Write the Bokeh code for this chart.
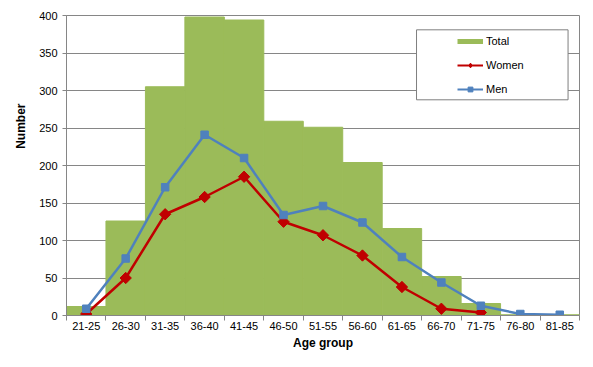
import numpy as np
from bokeh.plotting import figure
from bokeh.models import (ColumnDataSource, FixedTicker, Legend, LegendItem,
                          BoxAnnotation, Range1d, Title)
from bokeh.embed import file_html
from bokeh.resources import INLINE

categories = ["21-25", "26-30", "31-35", "36-40", "41-45", "46-50", "51-55",
              "56-60", "61-65", "66-70", "71-75", "76-80", "81-85"]
total = [12, 126, 305, 398, 394, 259, 251, 204, 116, 52, 16, 1, 1]
women = [2, 50, 135, 158, 185, 125, 107, 80, 38, 9, 4]
men = [9, 76, 171, 241, 210, 134, 146, 124, 78, 44, 13, 2, 1]
y_ticks = [0, 50, 100, 150, 200, 250, 300, 350, 400]

GREEN = "#9BBB59"
RED = "#C00000"
BLUE = "#4F81BD"
GRID = "#868686"
FONT = "Liberation Sans"

n = len(categories)
centers = [i + 0.5 for i in range(n)]
bounds = list(range(n + 1))

p = figure(width=593, height=367, output_backend="svg", toolbar_location=None,
           x_range=Range1d(0, n), y_range=Range1d(0, 400),
           min_border_left=66, min_border_right=14, min_border_top=15,
           min_border_bottom=52)
p.background_fill_color = "white"
p.border_fill_color = "white"
p.outline_line_color = GRID
p.outline_line_width = 1

src_total = ColumnDataSource(dict(x=centers, top=total))
src_women = ColumnDataSource(dict(x=centers[:len(women)], y=women))
src_men = ColumnDataSource(dict(x=centers[:len(men)], y=men))

bars = p.vbar(x="x", top="top", width=1.0, source=src_total,
              fill_color=GREEN, line_color=GREEN, line_width=1)

wl = p.line("x", "y", source=src_women, line_color=RED, line_width=2.5)
ws = p.scatter("x", "y", source=src_women, marker="square", angle=np.pi / 4,
               size=8, fill_color=RED, line_color=RED)
ml = p.line("x", "y", source=src_men, line_color=BLUE, line_width=2.5)
ms = p.scatter("x", "y", source=src_men, marker="square", size=7.5,
               fill_color=BLUE, line_color=BLUE)

# legend proxies (draw nothing in the plot)
nan = [np.nan]
tot_proxy = p.line(x=nan, y=nan, line_color=GREEN, line_width=5)
w_proxy_l = p.line(x=nan, y=nan, line_color=RED, line_width=2)
w_proxy_s = p.scatter(x=nan, y=nan, marker="diamond", fill_color=RED, line_color=RED)
m_proxy_l = p.line(x=nan, y=nan, line_color=BLUE, line_width=2)
m_proxy_s = p.scatter(x=nan, y=nan, marker="square", fill_color=BLUE, line_color=BLUE)

# legend frame
legend_box = BoxAnnotation(left=8.87, right=12.71, bottom=287.6, top=380.9,
                           fill_color="white", fill_alpha=1.0,
                           line_color="#7F7F7F", line_width=1,
                           line_alpha=1.0)
p.add_layout(legend_box)

legend = Legend(items=[
    LegendItem(label="Total", renderers=[tot_proxy]),
    LegendItem(label="Women", renderers=[w_proxy_l, w_proxy_s]),
    LegendItem(label="Men", renderers=[m_proxy_l, m_proxy_s]),
], location=(391, 216))
legend.border_line_alpha = 0
legend.background_fill_alpha = 0
legend.padding = 0
legend.spacing = 4
legend.margin = 0
legend.label_height = 20
legend.glyph_height = 12
legend.glyph_width = 26
legend.label_standoff = 3
legend.label_text_font = FONT
legend.label_text_font_size = "11px"
legend.label_text_color = "black"
p.add_layout(legend, "center")

# grid
p.xgrid.visible = False
p.ygrid.ticker = FixedTicker(ticks=y_ticks)
p.ygrid.grid_line_color = GRID
p.ygrid.grid_line_width = 1

# y axis
p.yaxis.ticker = FixedTicker(ticks=y_ticks)
p.yaxis.axis_line_color = GRID
p.yaxis.major_tick_line_color = GRID
p.yaxis.major_tick_out = 4
p.yaxis.major_tick_in = 0
p.yaxis.minor_tick_line_color = None
p.yaxis.major_label_text_font = FONT
p.yaxis.major_label_text_font_size = "11px"
p.yaxis.major_label_text_color = "black"
p.yaxis.major_label_standoff = 5

p.add_layout(Title(text="Number", align="right", offset=88, standoff=18,
                   text_font=FONT, text_font_size="12px",
                   text_font_style="bold", text_color="black"), "left")

# x axis
p.xaxis.ticker = FixedTicker(ticks=centers, minor_ticks=bounds)
p.xaxis.major_label_overrides = {c: lab for c, lab in zip(centers, categories)}
p.xaxis.axis_line_color = GRID
p.xaxis.major_tick_line_color = None
p.xaxis.major_tick_out = 0
p.xaxis.major_tick_in = 0
p.xaxis.minor_tick_line_color = GRID
p.xaxis.minor_tick_out = 5
p.xaxis.minor_tick_in = 0
p.xaxis.major_label_text_font = FONT
p.xaxis.major_label_text_font_size = "11px"
p.xaxis.major_label_text_color = "black"
p.xaxis.major_label_standoff = 1
p.xaxis.axis_label = "Age group"
p.xaxis.axis_label_text_font = FONT
p.xaxis.axis_label_text_font_size = "12px"
p.xaxis.axis_label_text_font_style = "bold"
p.xaxis.axis_label_text_color = "black"
p.xaxis.axis_label_standoff = 3

open("out.html", "w").write(file_html(p, INLINE))
